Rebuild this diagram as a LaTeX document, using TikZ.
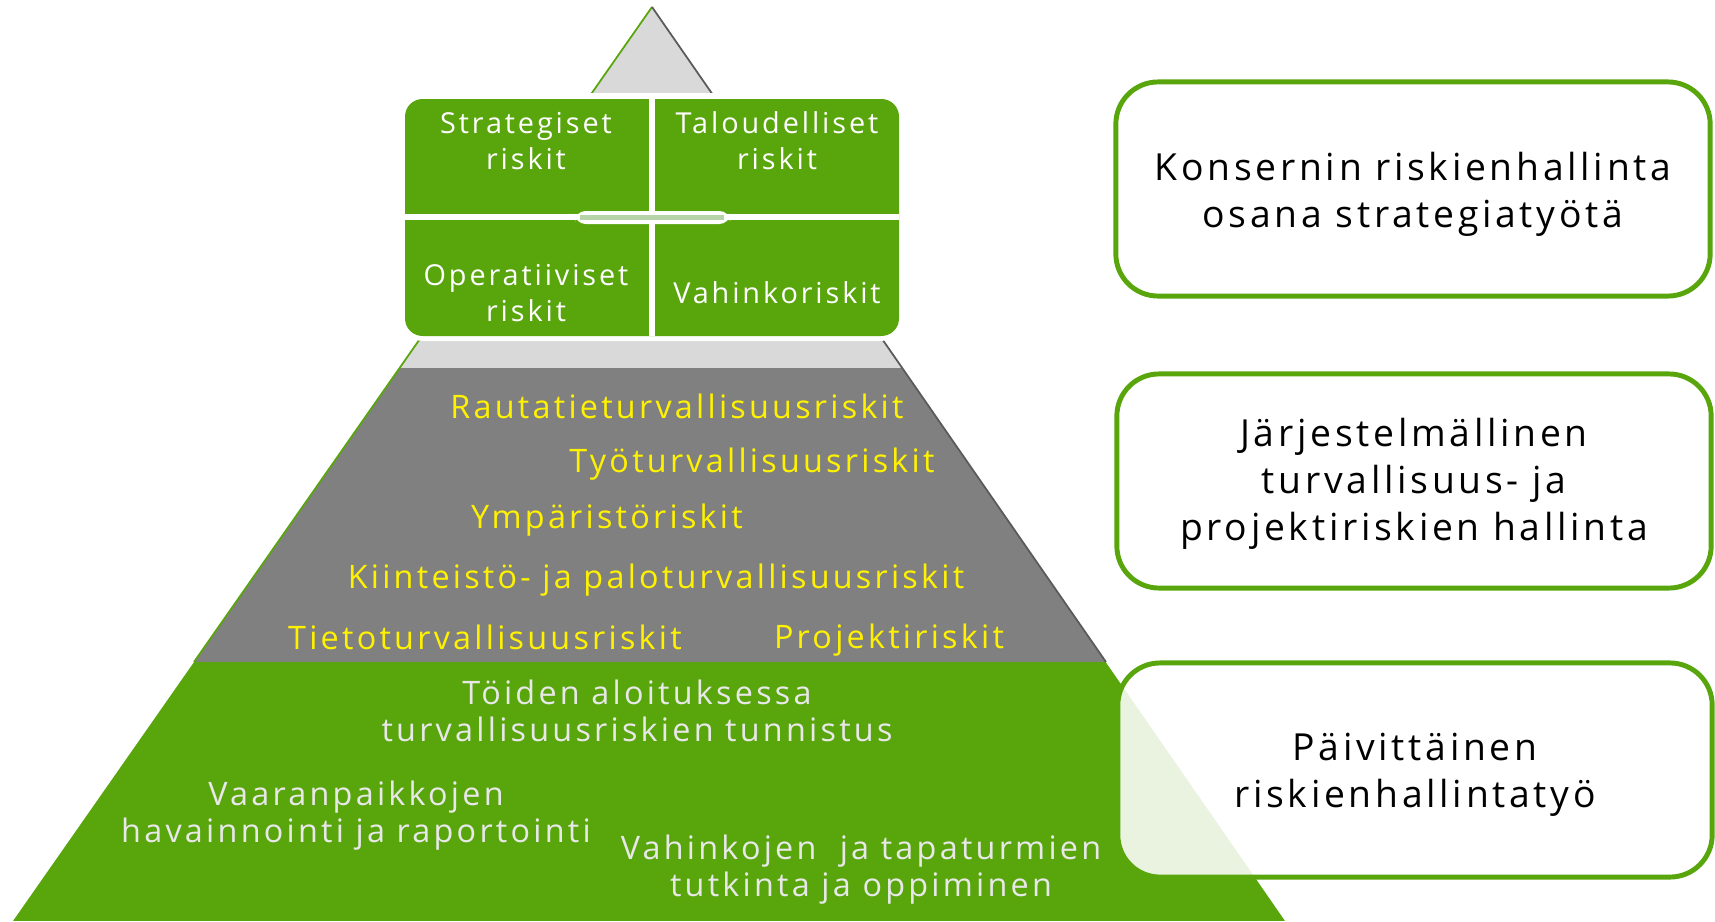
\documentclass[tikz,border=0pt]{standalone}
\usepackage{fontspec}
\setmainfont[LetterSpace=10]{Open Sans}
\usetikzlibrary{positioning}
\definecolor{pyrgreen}{HTML}{58A50C}
\definecolor{pyrgray}{HTML}{808080}
\definecolor{pyrlight}{HTML}{D9D9D9}
\definecolor{pillgreen}{HTML}{B7D3A9}
\definecolor{softwhite}{HTML}{E8E8E8}

\begin{document}
\begin{tikzpicture}[x=0.01cm, y=-0.01cm,
	cell/.style={text=white, align=center, font=\fontsize{8.2}{10.2}\selectfont},
	hazard/.style={text=yellow, font=\fontsize{9.2}{10.5}\selectfont},
	daily/.style={text=softwhite, align=center, font=\fontsize{9.2}{10.5}\selectfont},
	level/.style={draw=pyrgreen, line width=1.4pt, rounded corners=12pt, fill=white,
		minimum width=5.94cm, minimum height=2.14cm},
	leveltext/.style={align=center, font=\fontsize{10.6}{13.4}\selectfont}]
		\useasboundingbox (0,0) rectangle (1715,921);
		\coordinate (apex) at (652,7);
		\coordinate (bl) at (13,921);
		\coordinate (br) at (1285,921);
		
		% pyramid bands
		\begin{scope}
			\clip (apex) -- (bl) -- (br) -- cycle;
			\fill[pyrlight] (0,0) rectangle (1715,368);
			\fill[pyrgray] (0,368) rectangle (1715,662);
			\fill[pyrgreen] (0,662) rectangle (1715,921);
		\end{scope}
		\draw[pyrgreen, line width=0.5pt] (apex) -- (194,662);
		\draw[pyrgray!70!black, line width=0.5pt] (apex) -- (1106,662);
		
		% top box with four cells
		\fill[white, rounded corners=7pt] (399,93) rectangle (905,341);
		\fill[pyrgreen, rounded corners=5pt] (405,99) rectangle (899,336);
		\draw[white, line width=1.8pt] (652,99) -- (652,336);
		\draw[white, line width=1.5pt] (405,217) -- (899,217);
		\fill[white, rounded corners=3pt] (575,211) rectangle (730,224);
		\fill[pillgreen] (580,215) rectangle (724,220);
		
		\node[cell] (strat) at (526,141) {Strategiset\\riskit};
		\node[cell] (talous) at (777,141) {Taloudelliset\\riskit};
		\node[cell] (oper) at (526,293) {Operatiiviset\\riskit};
		\node[cell] (vahinko) at (777,293) {Vahinkoriskit};
		
		% middle band
		\node[hazard] (rata) at (677,406) {Rautatieturvallisuusriskit};
		\node[hazard] (tyo) at (752,464) {Työturvallisuusriskit};
		\node[hazard] (ymp) at (607,520) {Ympäristöriskit};
		\node[hazard] (kiint) at (656,580) {Kiinteistö- ja paloturvallisuusriskit};
		\node[hazard] (tieto) at (485,637) {Tietoturvallisuusriskit};
		\node[hazard] (proj) at (889,640) {Projektiriskit};
		
		% bottom band
		\node[daily] (aloitus) at (637,711) {Töiden aloituksessa\\turvallisuusriskien tunnistus};
		\node[daily] (vaara) at (356,816) {Vaaranpaikkojen\\havainnointi ja raportointi};
		\node[daily] (tutk) at (861,870) {Vahinkojen\ \ ja tapaturmien\\tutkinta ja oppiminen};
		
		% levels on the right
		\node[level] (konserni) at (1413,189) {};
		\node[level] (jarjest) at (1414,481) {};
		\node[level, fill opacity=0.87] (paivit) at (1415,770) {};
		\node[leveltext] (konsernitext) at ([yshift=-1.6pt]konserni.center) {Konsernin riskienhallinta\\osana strategiatyötä};
		\node[leveltext] (jarjesttext) at ([yshift=-0.9pt]jarjest.center) {Järjestelmällinen\\turvallisuus- ja\\projektiriskien hallinta};
		\node[leveltext] (paivittext) at ([yshift=-1.4pt]paivit.center) {Päivittäinen\\riskienhallintatyö};
\end{tikzpicture}
\end{document}
